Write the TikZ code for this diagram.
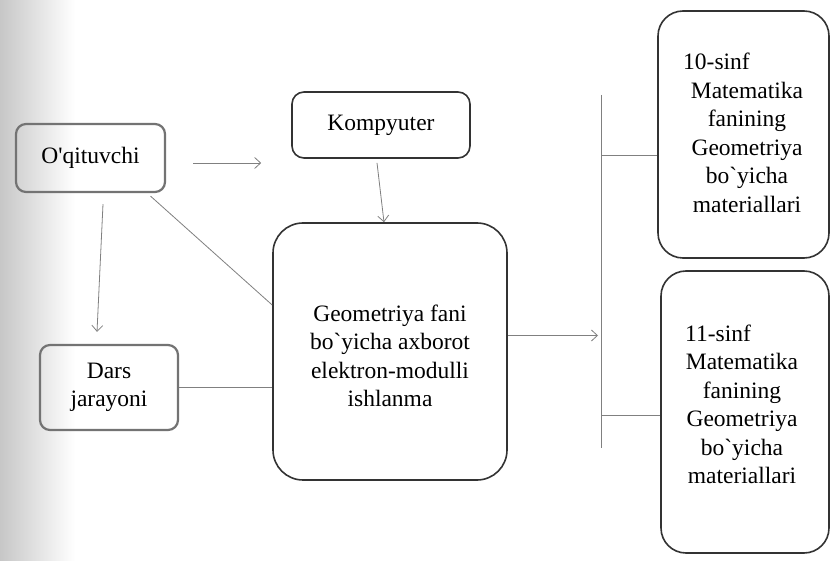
\documentclass[tikz,border=0pt]{standalone}
\usepackage{fontspec}
\usepackage{graphicx}
\setmainfont{Liberation Serif}[Ligatures=TeXOff]
\usetikzlibrary{arrows.meta,calc}

\tikzset{
  box/.style={draw=black!80, line width=1.6pt, rounded corners=#1, align=center,
    inner sep=0pt, font=\fontsize{23.5}{27.5}\selectfont},
  box/.default=12pt,
  softbox/.style={box=10pt, draw=black!55, line width=2.2pt},
  conn/.style={draw=black!50, line width=0.8pt},
  arr/.style={conn, -{Straight Barb[length=6pt,width=11pt]}},
}
% text block moved by (#1/2, -#2) inside its box, keeping the box's own size
\newcommand{\placedtext}[3]{\raisebox{#2}[\height][\depth]{\hspace*{#1}%
  \fontsize{23.5}{28.5}\selectfont\begin{tabular}{@{}c@{}}#3\end{tabular}}}
% first line of a block, set off to the left
\newcommand{\offsetline}[2]{\makebox[0pt]{#2\hspace*{#1}}}

\begin{document}
\begin{tikzpicture}[x=1pt,y=-1pt]
  \useasboundingbox (0,0) rectangle (831,561);
  \fill[white] (0,0) rectangle (831,561);
  % shaded page edge on the left
  \shade[left color=black!22, right color=white] (0,0) rectangle (75,561);

  % boxes
  \node[softbox, minimum width=149pt, minimum height=68pt] (oq) at (90.5,158) {O'qituvchi};
  \node[box=12pt, minimum width=178pt, minimum height=66pt] (komp) at (381,125) {Kompyuter};
  \node[box=30pt, minimum width=234pt, minimum height=257pt] (geo) at (390,351.5)
    {\placedtext{0pt}{-7pt}{Geometriya fani\\bo`yicha axborot\\elektron-modulli\\ishlanma}};
  \node[softbox, minimum width=138pt, minimum height=85pt] (dars) at (109,387.5) {Dars\\jarayoni};
  \node[box=25pt, minimum width=171pt, minimum height=247pt] (s10) at (743.5,134.5)
    {\placedtext{7pt}{-1pt}{\offsetline{61pt}{10-sinf}\\Matematika\\fanining\\Geometriya\\bo`yicha\\materiallari}};
  \node[box=25pt, minimum width=168pt, minimum height=282pt] (s11) at (745,412)
    {\placedtext{-6pt}{5pt}{\offsetline{48pt}{11-sinf}\\Matematika\\fanining\\Geometriya\\bo`yicha\\materiallari}};

  % vertical distribution bar
  \coordinate (bartop) at (601,95);
  \coordinate (barbot) at (601,448);
  \draw[conn] (bartop) -- (barbot);

  % connectors
  \draw[arr] ($(oq.east)+(27,5)$) -- ($(oq.east -| komp.west)+(-30,5)$);
  \draw[arr] ($(komp.south)+(-4,4)$) -- ($(geo.north)+(-6,0)$);
  \draw[conn] ($(oq.south)+(60,3)$) -- ($(geo.west)+(0,-46.5)$);
  \draw[arr] ($(oq.south)+(12.5,11)$) -- ($(dars.north)+(-12,-12)$);
  \draw[conn] (dars.east) -- (dars.east -| geo.west);
  \draw[arr] ($(geo.east)+(0,-16)$) -- ($(geo.east -| bartop)+(-3,-16)$);
  \draw[conn] ($(bartop |- s10.west)+(0,20.5)$) -- ($(s10.west)+(0,20.5)$);
  \draw[conn] ($(bartop |- s11.west)+(0,3)$) -- ($(s11.west)+(0,3)$);
\end{tikzpicture}
\end{document}
